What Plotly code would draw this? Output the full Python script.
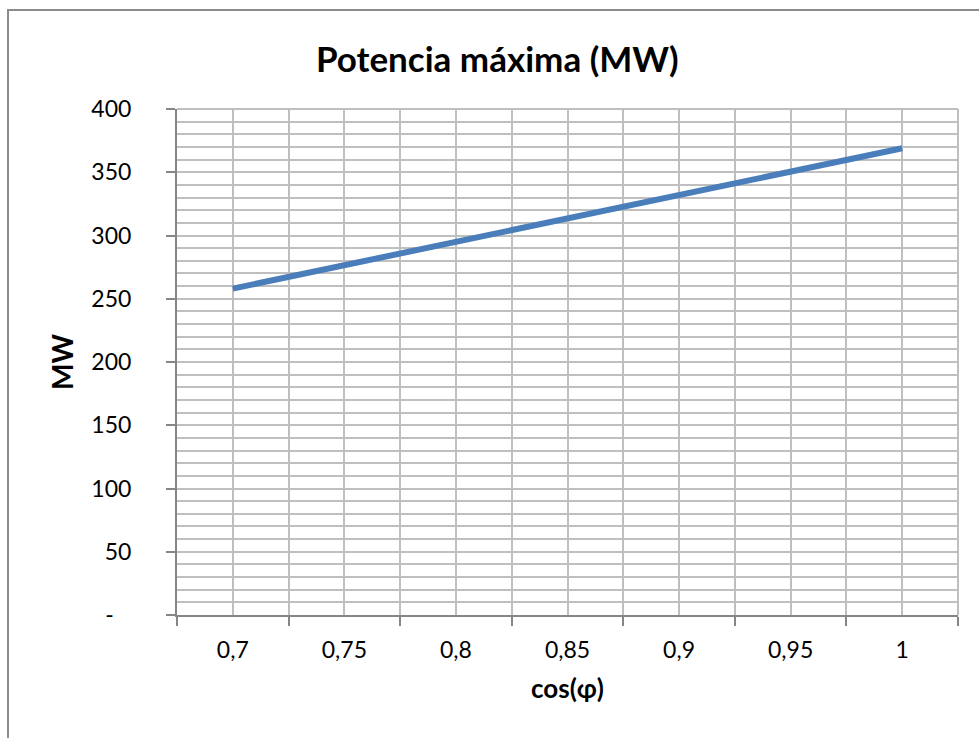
import plotly.graph_objects as go

categories = ["0,7", "0,75", "0,8", "0,85", "0,9", "0,95", "1"]
potencia_mw = [258.0, 276.5, 295.0, 313.5, 332.0, 350.5, 369.0]
y_tick_values = [0, 50, 100, 150, 200, 250, 300, 350, 400]
y_tick_labels = ["-\u00a0\u00a0\u00a0", "50", "100", "150", "200", "250", "300", "350", "400"]

FONT = "Lato"
AXIS_COL = "#868686"
GRID_COL = "#bfbfbf"
LINE_COL = "#4a7ebb"

x_pos = list(range(len(categories)))

fig = go.Figure()
fig.add_trace(go.Scatter(
    x=x_pos, y=potencia_mw, mode="lines",
    line=dict(color=LINE_COL, width=6),
    xaxis="x", yaxis="y", showlegend=False, hoverinfo="skip",
))

fig.update_layout(
    width=979, height=738, autosize=False,
    margin=dict(l=177, r=21, t=109, b=123),
    paper_bgcolor="white", plot_bgcolor="white",
    title=dict(text="<b>Potencia máxima (MW)</b>", x=0.508, xanchor="center",
               y=1 - 60 / 738, yanchor="middle", yref="container",
               font=dict(family=FONT, size=35, color="black")),
    font=dict(family=FONT, size=23, color="black"),
    xaxis=dict(
        range=[-0.5, len(categories) - 0.5],
        tickmode="linear", tick0=-0.5, dtick=1,
        ticks="outside", ticklen=9, tickwidth=2, tickcolor=AXIS_COL,
        showticklabels=False,
        showgrid=True, gridcolor=GRID_COL, gridwidth=2,
        minor=dict(tick0=0, dtick=1, showgrid=True, gridcolor=GRID_COL, gridwidth=2, ticks=""),
        showline=True, linecolor=AXIS_COL, linewidth=2,
        zeroline=False, fixedrange=True,
    ),
    xaxis2=dict(
        overlaying="x", matches="x", side="bottom",
        tickmode="array", tickvals=x_pos, ticktext=categories,
        ticks="", showgrid=False, showline=False, zeroline=False,
        ticklabelstandoff=19, fixedrange=True,
        tickfont=dict(family=FONT, size=23, color="black"),
        title=dict(text="<b>cos(φ)</b>", standoff=17, font=dict(family=FONT, size=26)),
    ),
    yaxis=dict(
        range=[0, 400],
        tickmode="array", tickvals=y_tick_values, ticktext=y_tick_labels,
        ticks="outside", ticklen=9, tickwidth=2, tickcolor=AXIS_COL,
        ticklabelstandoff=30,
        tickfont=dict(family=FONT, size=23, color="black"),
        showgrid=True, gridcolor=GRID_COL, gridwidth=2,
        minor=dict(tick0=0, dtick=10, showgrid=True, gridcolor=GRID_COL, gridwidth=2, ticks=""),
        showline=True, linecolor=AXIS_COL, linewidth=2,
        mirror=False, zeroline=False, fixedrange=True,
        title=dict(text="<b>MW</b>", standoff=10, font=dict(family=FONT, size=28)),
    ),
)

# dummy trace to activate xaxis2 labels
fig.add_trace(go.Scatter(x=[x_pos[0]], y=[None], xaxis="x2", yaxis="y",
                         mode="markers", showlegend=False, hoverinfo="skip"))

# right and top plot-area borders (grid frame)
fig.add_shape(type="line", xref="x domain", yref="y domain", x0=1, x1=1, y0=0, y1=1,
              line=dict(color=GRID_COL, width=2), layer="below")
fig.add_shape(type="line", xref="x domain", yref="y domain", x0=0, x1=1, y0=1, y1=1,
              line=dict(color=GRID_COL, width=2), layer="below")

# outer chart border (left and top sides visible)
fig.add_shape(type="rect", xref="paper", yref="paper",
              x0=(8 - 177) / 781, x1=(990 - 177) / 781,
              y0=-(760 - 615) / 506, y1=(615 - 10) / 506,
              line=dict(color="#8c8c8c", width=2), fillcolor="rgba(0,0,0,0)")

fig.write_html("out.html", config={"displayModeBar": False},
               post_script="document.body.style.margin='0';")
